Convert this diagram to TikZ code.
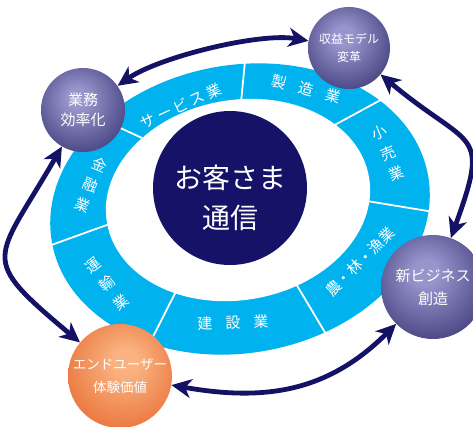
\documentclass[tikz,border=0pt]{standalone}
\usepackage{fontspec}
\setmainfont{Noto Sans CJK JP}
\usetikzlibrary{arrows.meta}

\definecolor{ringblue}{RGB}{0,178,238}
\definecolor{coreblue}{RGB}{22,18,104}
\definecolor{arcnavy}{RGB}{20,18,100}
\definecolor{sphdark}{RGB}{30,27,92}
\definecolor{sphlight}{RGB}{152,148,204}
\definecolor{orgdark}{RGB}{226,86,26}
\definecolor{orglight}{RGB}{250,178,128}

\pgfdeclareradialshading{navyball}{\pgfpoint{-4bp}{8bp}}{color(0bp)=(sphlight); color(6bp)=(sphlight); color(44bp)=(sphdark); color(60bp)=(sphdark)}
\pgfdeclareradialshading{orangeball}{\pgfpoint{3bp}{8bp}}{color(0bp)=(orglight); color(6bp)=(orglight); color(44bp)=(orgdark); color(60bp)=(orgdark)}

\newcommand{\jpsize}[2]{\fontsize{#1}{#2}\selectfont}

\tikzset{
	sphere/.style={circle,minimum size=#1,inner sep=0pt,text=white,align=center},
	ringlabel/.style={text=white,inner sep=0pt,align=center,font=\jpsize{15pt}{22pt}},
	divider/.style={draw=white,line width=1.8pt,shorten <=-2pt,shorten >=-2pt},
	arcarrow/.style={draw=arcnavy,line width=4.8pt,
		{Stealth[length=20pt,width=19pt,inset=6pt]}-{Stealth[length=20pt,width=19pt,inset=6pt]}}
}

\begin{document}
\begin{tikzpicture}[x=1pt,y=1pt]
	\useasboundingbox (0,0) rectangle (473,-426);
	% ring of industries
	\begin{scope}[shift={(240,-209)},rotate=10]
		\fill[ringblue] (0,0) ellipse (191 and 144);
		\foreach \t [count=\i] in {81,35,-14,-71,-126,181,129}
			\coordinate (out\i) at (\t:191 and 144);
	\end{scope}
	\begin{scope}[shift={(238,-200)},rotate=10]
		\fill[white] (0,0) ellipse (133 and 100);
		\foreach \t [count=\i] in {81,35,-14,-71,-126,181,129}
			\coordinate (in\i) at (\t:133 and 100);
	\end{scope}
	\foreach \i in {1,...,7}
		\draw[divider] (in\i) -- (out\i);
	
	\node[ringlabel,rotate=25](service) at (181,-106){サ\hspace{3pt}ー\hspace{3pt}ビ\hspace{3pt}ス\hspace{3pt}業};
	\node[ringlabel,rotate=-15](seizo) at (306,-89){製\hspace{13pt}造\hspace{13pt}業};
	\node[ringlabel,rotate=22](kouri) at (388,-153){小\\売\\業};
	\node[ringlabel,rotate=45](nourin) at (360,-262){農・林・漁業};
	\node[ringlabel,rotate=2](kensetsu) at (233,-323){建\hspace{13pt}設\hspace{13pt}業};
	\node[ringlabel,rotate=38,font=\jpsize{15pt}{23pt}](unyu) at (107,-284){運\\輸\\業};
	\node[ringlabel,rotate=-22](kinyu) at (91,-185){金\\融\\業};
	
	% centre
	\node[circle,fill=coreblue,minimum size=154pt,inner sep=0pt](core) at (230,-188){};
	\node[text=white,align=center,font=\jpsize{28pt}{40pt}](coretext) at ([yshift=-10pt]core.center){お客さま\\通信};
	
	% outer spheres
	\node[sphere=84pt,shading=navyball,font=\jpsize{15pt}{20pt}](gyomu) at (83,-110){業務\\効率化};
	\node[sphere=82pt,shading=navyball,font=\jpsize{12pt}{18pt}](shueki) at (349,-48){収益モデル\\変革};
	\node[sphere=104pt,shading=navyball,font=\jpsize{15pt}{23pt}](shinki) at (433,-287){新ビジネス\\創造};
	\node[sphere=104pt,shading=orangeball,font=\jpsize{13.5pt}{23pt}](enduser) at (120,-376){エンドユーザー\\体験価値};
	
	\draw[arcarrow](gyomu) to[out=35,in=170,looseness=0.65] (shueki);
	\draw[arcarrow](shueki) to[out=-40,in=70,looseness=1.7] (shinki);
	\draw[arcarrow](enduser) to[out=-10,in=225,looseness=1.05] (shinki);
	\draw[arcarrow](gyomu) to[out=240,in=140,looseness=1.75] (enduser);
\end{tikzpicture}
\end{document}
